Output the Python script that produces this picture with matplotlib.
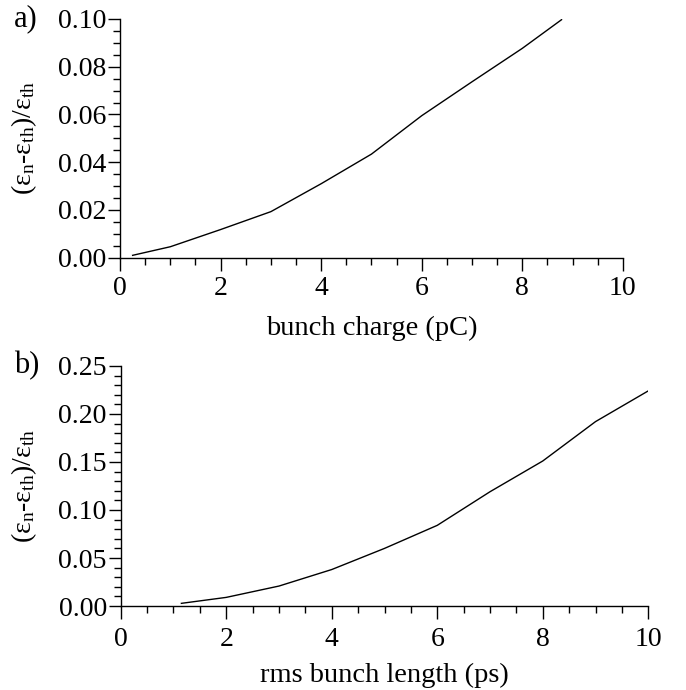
import matplotlib.pyplot as plt
from matplotlib.ticker import MultipleLocator, FormatStrFormatter

# dados
carga_x = [0.25, 1, 2, 3, 4, 5, 6, 7, 8, 8.78]
carga_y = [0.001, 0.0046, 0.0118, 0.0193, 0.031, 0.0434, 0.0595, 0.0737, 0.0877, 0.0997]

compr_x = [1.15, 2, 3, 4, 5, 6, 7, 8, 9, 10]
compr_y = [0.0028, 0.009, 0.0208, 0.038, 0.06, 0.084, 0.119, 0.151, 0.192, 0.224]

eixoy = r'(ε$_\mathrm{n}$-ε$_\mathrm{th}$)/ε$_\mathrm{th}$'

plt.rcParams.update({
    'font.family': 'Liberation Serif',
    'mathtext.fontset': 'custom',
    'mathtext.rm': 'Liberation Serif',
    'mathtext.it': 'Liberation Serif:italic',
    'font.size': 20,
    'axes.linewidth': 1.0,
})

fig = plt.figure(figsize=(6.86, 6.90), dpi=100)


def formatar(ax, ymax, ymaj, ymin, xlabel, xlab_y, ylab_x, xpad):
    ax.spines['top'].set_visible(False)
    ax.spines['right'].set_visible(False)
    ax.set_xlim(0, 10)
    ax.set_ylim(0, ymax)
    ax.xaxis.set_major_locator(MultipleLocator(2))
    ax.xaxis.set_minor_locator(MultipleLocator(0.5))
    ax.yaxis.set_major_locator(MultipleLocator(ymaj))
    ax.yaxis.set_minor_locator(MultipleLocator(ymin))
    ax.yaxis.set_major_formatter(FormatStrFormatter('%.2f'))
    ax.tick_params(which='major', direction='out', length=9, width=1.0, labelsize=20)
    ax.tick_params(axis='y', which='major', pad=1)
    ax.tick_params(axis='x', which='major', pad=xpad)
    ax.tick_params(which='minor', direction='out', length=5, width=1.0)
    ax.set_xlabel(xlabel, fontsize=20.5, va='center')
    ax.set_ylabel(eixoy, fontsize=20, va='center')
    ax.xaxis.set_label_coords(0.5, xlab_y)
    ax.yaxis.set_label_coords(ylab_x, 0.5)


# a) carga
ax1 = fig.add_axes([0.175, 0.6265, 0.733, 0.346])
ax1.plot(carga_x, carga_y, color='k', lw=1.0)
formatar(ax1, 0.10, 0.02, 0.005, 'bunch charge (pC)', -0.295, -0.19, 4)

# b) comprimento
ax2 = fig.add_axes([0.176, 0.1217, 0.769, 0.348])
ax2.plot(compr_x, compr_y, color='k', lw=1.0)
formatar(ax2, 0.25, 0.05, 0.01, 'rms bunch length (ps)', -0.2875, -0.183, 6)

# letras dos paineis
fig.text(0.02, 1 - 19/690, 'a)', fontsize=22, ha='left', va='center')
fig.text(0.02, 1 - 366/690, 'b)', fontsize=22, ha='left', va='center')

plt.savefig('out.png', dpi=100)
